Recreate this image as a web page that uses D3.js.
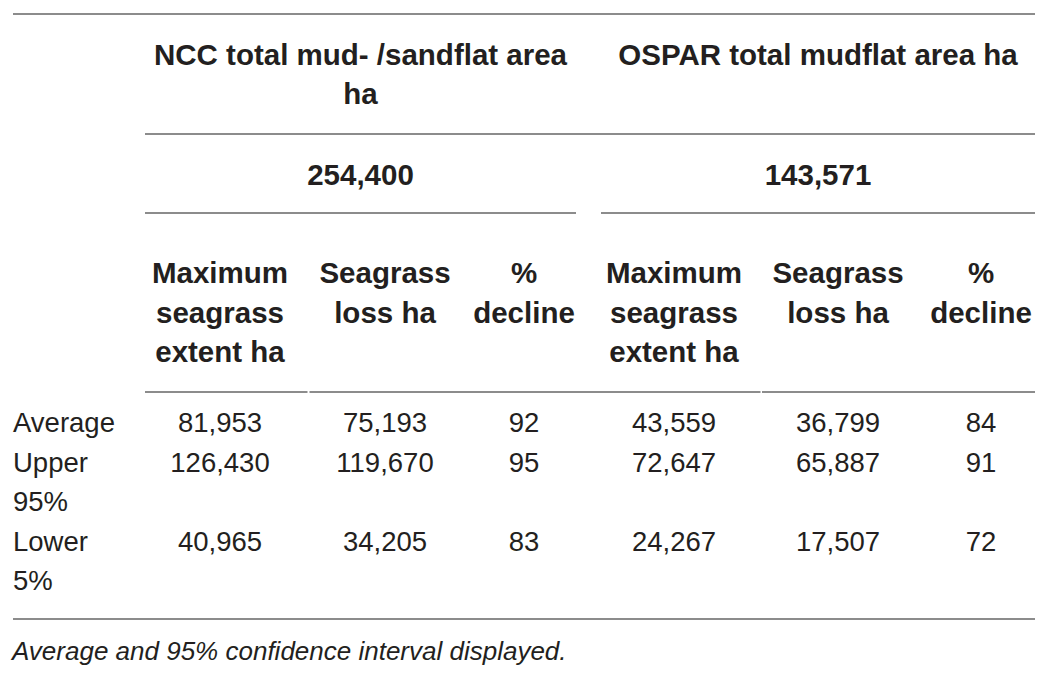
<!DOCTYPE html>
<html>
<head>
<meta charset="utf-8">
<script src="https://cdn.jsdelivr.net/npm/d3@7"></script>
<style>
  body { margin: 0; background: #fff; }
  text { font-family: "Liberation Sans", Arial, Helvetica, sans-serif; fill: #231f20; }
  .bold { font-weight: bold; font-size: 29.5px; }
  .cell { font-size: 27.5px; }
  .note { font-size: 26px; font-style: italic; }
  .rule { stroke: #8c8c8c; stroke-width: 2; }
</style>
</head>
<body>
<svg id="table" width="1051" height="685"></svg>
<script>
// table content
const groupTitles = [['NCC total mud- /sandflat area', 'ha'], ['OSPAR total mudflat area ha']]
const totalArea = [254400, 143571]
const subHeaders = [['Maximum', 'seagrass', 'extent ha'], ['Seagrass', 'loss ha'], ['%', 'decline']]
const rowLabels = [['Average'], ['Upper', '95%'], ['Lower', '5%']]
const nccMaxExtent = [81953, 126430, 40965]
const nccLoss = [75193, 119670, 34205]
const nccDecline = [92, 95, 83]
const osparMaxExtent = [43559, 72647, 24267]
const osparLoss = [36799, 65887, 17507]
const osparDecline = [84, 91, 72]
const footnote = 'Average and 95% confidence interval displayed.'

const svg = d3.select('#table')
const fmt = d3.format(',')
const lineH = 39.5

const columns = ['nccMax', 'nccLoss', 'nccDec', 'osparMax', 'osparLoss', 'osparDec']
const columnData = [nccMaxExtent, nccLoss, nccDecline, osparMaxExtent, osparLoss, osparDecline]

// column centres (layout only)
const x = d3.scaleOrdinal().domain(columns).range([220, 385, 524, 674, 838, 981])
const gx = d3.scaleOrdinal().domain([0, 1]).range([[145, 576], [601, 1035]])

// rules
function rule (x1, x2, y) {
  svg.append('line').attr('class', 'rule')
    .attr('x1', x1).attr('x2', x2).attr('y1', y).attr('y2', y)
}
rule(13, 1035, 14)
rule(145, 1035, 134)
gx.range().forEach(r => rule(r[0], r[1], 213))
rule(145, 307.5, 392)
rule(309.5, 760.5, 392)
rule(762, 1035, 392)
rule(13, 1035, 619)

// group titles
const groupG = svg.selectAll('.grp')
  .data(groupTitles)
  .enter()
  .append('g')
  .attr('class', 'grp')

groupG.selectAll('text')
  .data((d, i) => d.map(t => ({ t: t, g: i })))
  .enter()
  .append('text')
  .attr('class', 'bold')
  .attr('text-anchor', 'middle')
  .attr('x', d => d3.mean(gx(d.g)))
  .attr('y', (d, i) => 65 + i * 38.5)
  .text(d => d.t)

svg.selectAll('.total')
  .data(totalArea)
  .enter()
  .append('text')
  .attr('class', 'bold total')
  .attr('text-anchor', 'middle')
  .attr('x', (d, i) => d3.mean(gx(i)))
  .attr('y', 185)
  .text(d => fmt(d))

// sub headers, repeated for both groups
const subG = svg.selectAll('.sub')
  .data(columns)
  .enter()
  .append('g')
  .attr('class', 'sub')

subG.selectAll('text')
  .data((c, i) => subHeaders[i % 3].map(t => ({ t: t, c: c })))
  .enter()
  .append('text')
  .attr('class', 'bold')
  .attr('text-anchor', 'middle')
  .attr('x', d => x(d.c))
  .attr('y', (d, i) => 283 + i * lineH)
  .text(d => d.t)

// row baselines depend on how many lines each label takes
const rowY = []
let yy = 432
rowLabels.forEach(l => { rowY.push(yy); yy += l.length * lineH })

const rowG = svg.selectAll('.row')
  .data(rowLabels)
  .enter()
  .append('g')
  .attr('class', 'row')

rowG.selectAll('text.label')
  .data((d, i) => d.map(t => ({ t: t, r: i })))
  .enter()
  .append('text')
  .attr('class', 'cell label')
  .attr('x', 13)
  .attr('y', (d, i) => rowY[d.r] + i * lineH)
  .text(d => d.t)

rowG.selectAll('text.val')
  .data((d, r) => columns.map((c, k) => ({ c: c, v: columnData[k][r], r: r })))
  .enter()
  .append('text')
  .attr('class', 'cell val')
  .attr('text-anchor', 'middle')
  .attr('x', d => x(d.c))
  .attr('y', d => rowY[d.r])
  .text(d => fmt(d.v))

svg.append('text')
  .attr('class', 'note')
  .attr('x', 12)
  .attr('y', 660)
  .text(footnote)
</script>
</body>
</html>
